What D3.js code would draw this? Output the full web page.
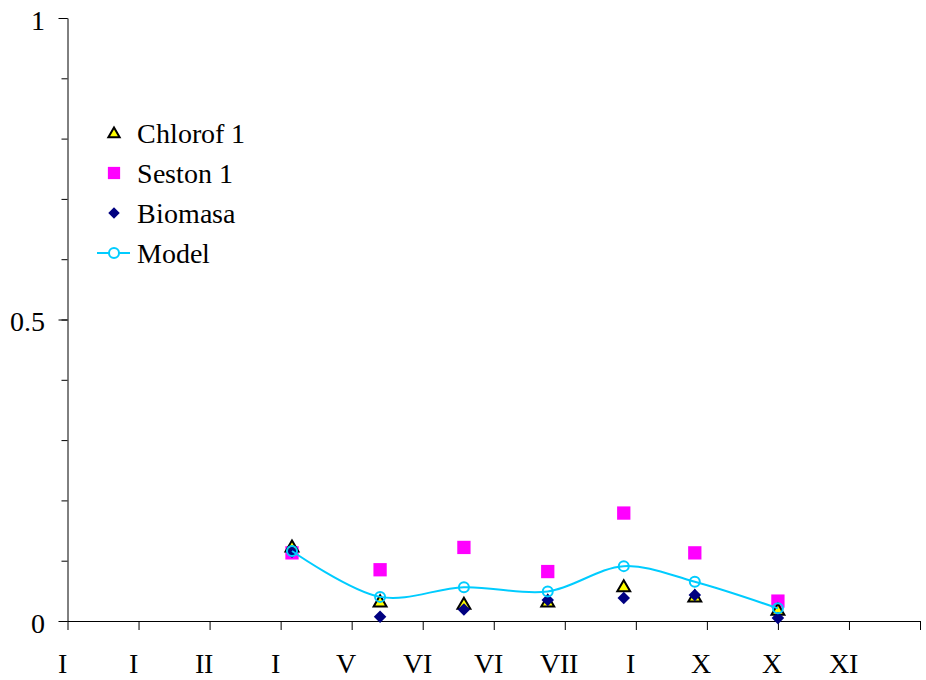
<!DOCTYPE html>
<html>
<head>
<meta charset="utf-8">
<script src="https://cdn.jsdelivr.net/npm/d3@7"></script>
<style>
  @font-face {
    font-family: "AxisSerif";
    src: local("Liberation Serif"), local("LiberationSerif"), local("LiberationSerif-Regular"),
         local("Times New Roman"), local("Tinos");
  }
  body { margin: 0; background: #fff; }
  svg { display: block; }
</style>
</head>
<body>
<svg id="plot" width="926" height="680"></svg>
<script>
// Month labels along the time axis (one per month start)
const monthLabels = ["I", "I", "II", "I", "V", "VI", "VI", "VII", "I", "X", "X", "XI"];
// Sampling dates, in months from the start of the year
const sampleMonths = [3.16, 4.40, 5.58, 6.76, 7.83, 8.83, 10.0];
// Measured series
const chlorof = [0.123, 0.032, 0.028, 0.032, 0.057, 0.040, 0.018];
const seston  = [0.113, 0.085, 0.122, 0.082, 0.179, 0.113, 0.033];
const biomasa = [0.115, 0.007, 0.019, 0.035, 0.038, 0.043, 0.005];
// Model output at the sampling dates
const model   = [0.116, 0.040, 0.056, 0.049, 0.091, 0.065, 0.021];
// Value axis ticks
const yMajorTicks = [0, 0.5, 1];
const yMinorTicks = d3.range(0, 11).map(i => i / 10);

const svg = d3.select("#plot");
const FONT = 28;
const FAMILY = "AxisSerif, 'Times New Roman', 'Liberation Serif', Tinos, serif";

const x = d3.scaleLinear().domain([0, 12]).range([67.5, 920]);
const y = d3.scaleLinear().domain([0, 1]).range([621, 18]);

function serifText(sel) {
  sel.style("font-family", FAMILY)
     .attr("font-size", FONT).attr("fill", "#000");
}

// Minor y ticks
svg.append("g")
  .attr("transform", `translate(${x(0)},0)`)
  .call(d3.axisLeft(y).tickValues(yMinorTicks).tickSize(6).tickSizeOuter(0).tickFormat(""))
  .call(g => g.selectAll("line").attr("stroke", "#000"))
  .call(g => g.select(".domain").attr("stroke", "#000"));

// Major y ticks with labels
svg.append("g")
  .attr("transform", `translate(${x(0)},0)`)
  .call(d3.axisLeft(y).tickValues(yMajorTicks).tickSize(9).tickSizeOuter(0).tickPadding(14)
        .tickFormat(d => d3.format("")(d)))
  .attr("font-family", null).attr("font-size", null)
  .call(g => g.select(".domain").remove())
  .call(g => g.selectAll("line").attr("stroke", "#000"))
  .call(g => g.selectAll("text").call(serifText).attr("dy", "0.41em"));

// Time axis
svg.append("g")
  .attr("transform", `translate(0,${y(0)})`)
  .call(d3.axisBottom(x).tickValues(d3.range(0, 13)).tickSize(9).tickSizeOuter(0).tickPadding(23)
        .tickFormat(d => monthLabels[d] || ""))
  .attr("font-family", null).attr("font-size", null)
  .call(g => g.select(".domain").attr("stroke", "#000"))
  .call(g => g.selectAll("line").attr("stroke", "#000"))
  .call(g => g.selectAll("text").call(serifText).attr("dx", -6));

// Marker shapes
const triPath = d3.symbol().type(d3.symbolTriangle).size(72)();
const sqPath = d3.symbol().type(d3.symbolSquare).size(177)();
const diaPath = d3.symbol().type(d3.symbolDiamond2).size(100)();

const pts = arr => arr.map((v, i) => ({ m: sampleMonths[i], v }));

// Seston
svg.append("g").selectAll("path").data(pts(seston)).join("path")
  .attr("d", sqPath)
  .attr("transform", d => `translate(${x(d.m)},${y(d.v)})`)
  .attr("fill", "#ff00ff");

// Chlorophyll
svg.append("g").selectAll("path").data(pts(chlorof)).join("path")
  .attr("d", triPath)
  .attr("transform", d => `translate(${x(d.m)},${y(d.v) + 1})`)
  .attr("fill", "#ffff00").attr("stroke", "#000").attr("stroke-width", 2);

// Biomass
svg.append("g").selectAll("path").data(pts(biomasa)).join("path")
  .attr("d", diaPath)
  .attr("transform", d => `translate(${x(d.m)},${y(d.v)})`)
  .attr("fill", "#000080");

// Model curve
const modelPts = pts(model);
svg.append("path")
  .datum(modelPts)
  .attr("fill", "none")
  .attr("stroke", "#00ccff")
  .attr("stroke-width", 2)
  .attr("d", d3.line().x(d => x(d.m)).y(d => y(d.v)).curve(d3.curveCatmullRom.alpha(0.5)));

svg.append("g").selectAll("circle").data(modelPts).join("circle")
  .attr("cx", d => x(d.m)).attr("cy", d => y(d.v)).attr("r", 5)
  .attr("fill", "none").attr("stroke", "#00ccff").attr("stroke-width", 2);

// Legend
const legend = svg.append("g");
const items = [
  { name: "Chlorof 1", kind: "tri" },
  { name: "Seston 1", kind: "sq" },
  { name: "Biomasa", kind: "dia" },
  { name: "Model", kind: "model" }
];
const lx = 114, ly0 = 133, ldy = 40;
items.forEach((it, i) => {
  const cy = ly0 + i * ldy;
  const g = legend.append("g");
  if (it.kind === "tri") {
    g.append("path").attr("d", d3.symbol().type(d3.symbolTriangle).size(55)())
      .attr("transform", `translate(${lx},${cy + 1})`)
      .attr("fill", "#ffff00").attr("stroke", "#000").attr("stroke-width", 2);
  } else if (it.kind === "sq") {
    g.append("path").attr("d", d3.symbol().type(d3.symbolSquare).size(150)())
      .attr("transform", `translate(${lx},${cy})`).attr("fill", "#ff00ff");
  } else if (it.kind === "dia") {
    g.append("path").attr("d", d3.symbol().type(d3.symbolDiamond2).size(85)())
      .attr("transform", `translate(${lx},${cy})`).attr("fill", "#000080");
  } else {
    g.append("line").attr("x1", lx - 17).attr("x2", lx + 16).attr("y1", cy).attr("y2", cy)
      .attr("stroke", "#00ccff").attr("stroke-width", 2);
    g.append("circle").attr("cx", lx).attr("cy", cy).attr("r", 5)
      .attr("fill", "#fff").attr("stroke", "#00ccff").attr("stroke-width", 2);
  }
  g.append("text").attr("x", 137).attr("y", cy + 10).call(serifText).text(it.name);
});
</script>
</body>
</html>
